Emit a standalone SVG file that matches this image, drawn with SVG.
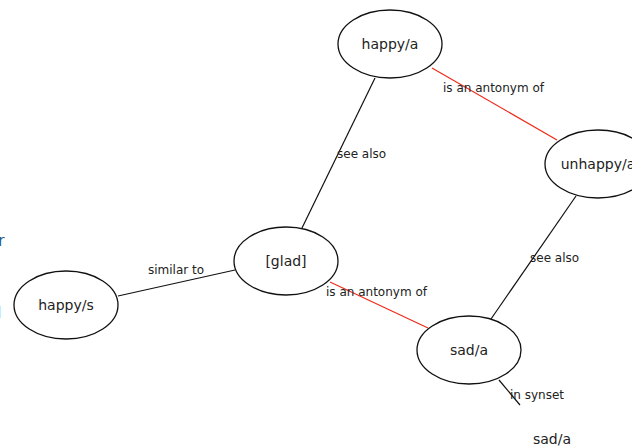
<svg xmlns="http://www.w3.org/2000/svg" width="632" height="446" viewBox="0 0 632 446">
<style>
.node ellipse{fill:#fff;stroke:#111;stroke-width:1.3}
.node text{font-family:"DejaVu Sans",sans-serif;font-size:14px;fill:#222;text-anchor:middle}
.edge{stroke:#111;stroke-width:1.2;fill:none}
.anto{stroke:#ee2a1a;stroke-width:1.2;fill:none}
.lbl{font-family:"DejaVu Sans",sans-serif;font-size:12px;fill:#222}
.frag{font-family:"DejaVu Sans",sans-serif;font-size:16px;fill:#2a5a8a}
</style>
<rect width="632" height="446" fill="#fff"/>
<text class="frag" x="-2" y="246">r</text>
<text class="frag" x="-3" y="318">l</text>
<g id="connectors">
<line class="edge" x1="375" y1="78" x2="302" y2="228"/>
<line class="anto" x1="432" y1="68" x2="557" y2="140"/>
<line class="edge" x1="576" y1="196" x2="491" y2="319"/>
<line class="anto" x1="330" y1="282" x2="428" y2="328"/>
<line class="edge" x1="118" y1="296" x2="235" y2="270"/>
<line class="edge" x1="499" y1="380" x2="520" y2="405"/>
<text class="lbl" x="337" y="158">see also</text>
<text class="lbl" x="443" y="92">is an antonym of</text>
<text class="lbl" x="530" y="262">see also</text>
<text class="lbl" x="326" y="296">is an antonym of</text>
<text class="lbl" x="148" y="274">similar to</text>
<text class="lbl" x="510" y="399">in synset</text>
</g>
<g id="happy-a" class="node"><ellipse cx="390" cy="44" rx="52" ry="34"/><text x="390" y="49">happy/a</text></g>
<g id="unhappy-a" class="node"><ellipse cx="598" cy="164" rx="53" ry="34"/><text x="598" y="169">unhappy/a</text></g>
<g id="glad" class="node"><ellipse cx="286" cy="261" rx="52" ry="34"/><text x="286" y="266">[glad]</text></g>
<g id="happy-s" class="node"><ellipse cx="66" cy="305" rx="52" ry="34"/><text x="66" y="310">happy/s</text></g>
<g id="sad-a" class="node"><ellipse cx="469" cy="350" rx="52" ry="34"/><text x="469" y="355">sad/a</text></g>
<g id="sad-a-word"><text class="lbl" x="533" y="444" style="font-size:14px">sad/a</text></g>
</svg>
